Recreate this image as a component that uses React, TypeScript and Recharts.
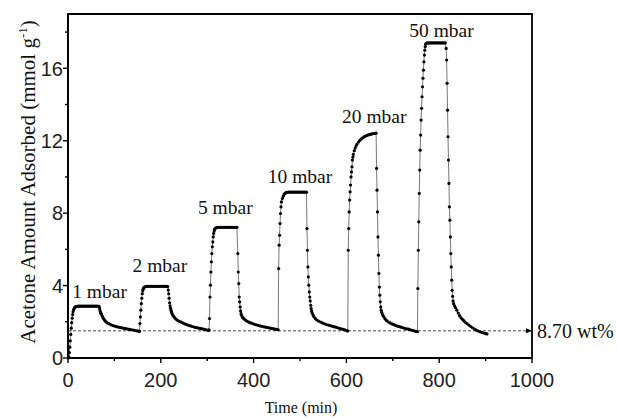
import React from 'react';
import {
  LineChart, Line, XAxis, YAxis, ReferenceLine, ReferenceArea, ReferenceDot
} from 'recharts';

// [time (min), amount (mmol/g)], one list per pressure step
const cycle1mbar: [number, number][] = [
  [1, 0], [2, 0.05], [3, 0.3], [4, 0.6], [5, 0.95], [6, 1.3], [7, 1.65], [8, 1.95], [9, 2.2], [10, 2.4],
  [11, 2.55], [12, 2.65], [13, 2.72], [14, 2.77], [15, 2.8], [16, 2.82], [18, 2.84], [20, 2.85], [22, 2.86],
  [25, 2.86], [28, 2.86], [31, 2.86], [34, 2.86], [37, 2.86], [40, 2.86], [43, 2.86], [46, 2.86], [49, 2.86],
  [52, 2.86], [55, 2.86], [58, 2.86], [61, 2.86], [64, 2.86], [67, 2.85], [68, 2.75], [69, 2.63], [70, 2.54],
  [71, 2.47], [72, 2.42], [74, 2.3], [76, 2.2], [78, 2.12], [80, 2.05], [83, 1.98], [86, 1.92], [89, 1.88],
  [93, 1.83], [97, 1.79], [101, 1.76], [105, 1.73], [109, 1.7], [113, 1.68], [117, 1.66], [121, 1.64],
  [125, 1.62], [129, 1.6], [133, 1.58], [137, 1.56], [141, 1.54], [145, 1.52], [149, 1.5], [153, 1.48],
];

const cycle2mbar: [number, number][] = [
  [154, 1.47], [155, 1.9], [156, 2.27], [157, 2.64], [158, 3.0], [159, 3.3], [160, 3.55], [161, 3.7],
  [162, 3.8], [163, 3.86], [164, 3.9], [166, 3.93], [168, 3.95], [171, 3.96], [174, 3.96], [177, 3.96],
  [180, 3.96], [183, 3.96], [186, 3.96], [189, 3.96], [192, 3.96], [195, 3.96], [198, 3.96], [201, 3.96],
  [204, 3.96], [207, 3.96], [210, 3.96], [213, 3.96], [215, 3.95], [216, 3.75], [217, 3.55], [218, 3.3],
  [219, 3.05], [220, 2.88], [221, 2.75], [222, 2.64], [223, 2.55], [224, 2.47], [226, 2.36], [228, 2.28],
  [230, 2.22], [233, 2.14], [236, 2.08], [240, 2.02], [244, 1.98], [248, 1.93], [252, 1.88], [256, 1.84],
  [260, 1.8], [264, 1.77], [268, 1.74], [272, 1.71], [276, 1.68], [280, 1.66], [284, 1.64], [288, 1.62],
  [292, 1.59], [296, 1.57], [300, 1.54], [303, 1.52],
];

const cycle5mbar: [number, number][] = [
  [304, 1.55], [305, 2.18], [306, 3.37], [307, 4.02], [308, 4.75], [309, 5.31], [310, 5.77], [311, 6.14],
  [312, 6.41], [313, 6.69], [314, 6.88], [315, 7.02], [316, 7.1], [317, 7.15], [318, 7.18], [320, 7.2],
  [322, 7.22], [325, 7.22], [328, 7.22], [331, 7.22], [334, 7.22], [337, 7.22], [340, 7.22], [343, 7.22],
  [346, 7.22], [349, 7.22], [352, 7.22], [355, 7.22], [358, 7.22], [361, 7.22], [364, 7.22], [366, 5.77],
  [367, 4.75], [368, 4.11], [369, 3.37], [370, 3.1], [371, 2.82], [372, 2.6], [373, 2.45], [374, 2.36],
  [376, 2.25], [378, 2.2], [380, 2.15], [383, 2.08], [386, 2.03], [390, 1.98], [394, 1.94], [398, 1.9],
  [402, 1.86], [406, 1.83], [410, 1.8], [414, 1.77], [418, 1.75], [422, 1.72], [426, 1.7], [430, 1.68],
  [434, 1.66], [438, 1.64], [442, 1.62], [446, 1.6], [450, 1.58], [453, 1.56],
];

const cycle10mbar: [number, number][] = [
  [454, 4.94], [455, 6.23], [456, 6.78], [457, 7.43], [458, 7.98], [459, 8.35], [460, 8.62], [462, 8.81],
  [464, 8.94], [466, 9.05], [468, 9.1], [470, 9.13], [472, 9.15], [475, 9.16], [478, 9.16], [481, 9.16],
  [484, 9.16], [487, 9.16], [490, 9.16], [493, 9.16], [496, 9.16], [499, 9.16], [502, 9.16], [505, 9.16],
  [508, 9.16], [511, 9.16], [514, 9.16], [515, 7.15], [516, 5.95], [517, 5.03], [518, 4.48], [519, 4.02],
  [520, 3.65], [521, 3.37], [522, 3.15], [523, 2.91], [524, 2.73], [525, 2.6], [526, 2.5], [528, 2.38],
  [530, 2.28], [533, 2.18], [536, 2.1], [540, 2.04], [545, 1.98], [549, 1.93], [553, 1.89], [557, 1.85],
  [561, 1.82], [565, 1.79], [569, 1.76], [573, 1.73], [577, 1.7], [581, 1.67], [585, 1.64], [589, 1.61],
  [593, 1.58], [597, 1.55], [601, 1.51], [603, 1.49],
];

const cycle20mbar: [number, number][] = [
  [604, 5.95], [605, 7.15], [606, 8.07], [607, 8.72], [608, 9.18], [609, 9.55], [610, 10.0], [611, 10.28],
  [612, 10.56], [613, 10.93], [614, 11.1], [615, 11.25], [617, 11.45], [619, 11.6], [621, 11.72], [623, 11.82],
  [626, 11.93], [629, 12.02], [632, 12.1], [635, 12.16], [638, 12.21], [641, 12.25], [644, 12.29], [647, 12.32],
  [650, 12.34], [653, 12.36], [656, 12.38], [659, 12.4], [662, 12.41], [664, 12.42], [665, 10.47], [666, 9.27],
  [667, 8.07], [668, 6.69], [669, 5.68], [670, 4.67], [671, 3.92], [672, 3.47], [673, 3.1], [674, 2.82],
  [675, 2.64], [676, 2.52], [678, 2.4], [680, 2.3], [683, 2.18], [686, 2.08], [690, 2.0], [694, 1.94],
  [698, 1.88], [702, 1.84], [706, 1.8], [710, 1.76], [714, 1.73], [718, 1.7], [722, 1.67], [726, 1.64],
  [730, 1.61], [734, 1.59], [738, 1.56], [742, 1.53], [746, 1.5], [750, 1.47], [753, 1.45],
];

const cycle50mbar: [number, number][] = [
  [754, 3.84], [755, 5.95], [756, 7.52], [757, 9.09], [758, 10.38], [759, 11.48], [760, 12.31], [761, 13.14],
  [762, 13.79], [763, 14.43], [764, 14.98], [765, 15.45], [766, 15.9], [767, 16.36], [768, 16.73], [769, 17.0],
  [770, 17.2], [771, 17.33], [772, 17.38], [774, 17.4], [777, 17.4], [780, 17.4], [783, 17.4], [786, 17.4],
  [789, 17.4], [792, 17.4], [795, 17.4], [798, 17.4], [801, 17.4], [804, 17.4], [807, 17.4], [810, 17.4],
  [813, 17.4], [815, 17.1], [816, 16.46], [817, 15.17], [818, 13.69], [819, 12.22], [820, 10.93], [821, 9.64],
  [822, 8.35], [823, 7.61], [824, 6.69], [825, 5.77], [826, 5.03], [827, 4.3], [828, 3.74], [829, 3.4],
  [830, 3.15], [831, 3.0], [833, 2.88], [835, 2.78], [838, 2.64], [841, 2.48], [844, 2.34], [847, 2.22],
  [850, 2.14], [853, 2.06], [856, 1.98], [860, 1.9], [864, 1.82], [868, 1.74], [872, 1.67], [876, 1.6],
  [880, 1.54], [884, 1.49], [888, 1.45], [892, 1.41], [896, 1.38], [900, 1.35], [903, 1.33],
];

const pressureLabels = ['1 mbar', '2 mbar', '5 mbar', '10 mbar', '20 mbar', '50 mbar'];
const labelTimes = [68, 198, 339, 500, 660, 805];
const labelAmounts = [3.32, 4.75, 7.98, 9.67, 12.97, 17.73];

const xTicks = [0, 100, 200, 300, 400, 500, 600, 700, 800, 900, 1000];
const yTicks = [0, 2, 4, 6, 8, 10, 12, 14, 16, 18];
const baseline = 1.5;
const baselineText = '8.70 wt%';

const data = [
  ...cycle1mbar, ...cycle2mbar, ...cycle5mbar, ...cycle10mbar, ...cycle20mbar, ...cycle50mbar,
].map(([t, v]) => ({ t, v }));

const SERIF = '"Liberation Serif", "Times New Roman", serif';
const SANS = '"Liberation Sans", Arial, sans-serif';

const XTick = (props: any) => {
  const { x, y, payload } = props;
  const major = payload.value % 200 === 0;
  return (
    <g>
      <line x1={x} x2={x} y1={y} y2={y + (major ? 5 : 3)} stroke="#000" strokeWidth={1.4} />
      {major && (
        <text x={x} y={y + 29} textAnchor="middle" fontSize={20} fontFamily={SANS} fill="#222">
          {payload.value}
        </text>
      )}
    </g>
  );
};

const YTick = (props: any) => {
  const { x, y, payload } = props;
  const major = payload.value % 4 === 0;
  return (
    <g>
      <line x1={x} x2={x - (major ? 5 : 3)} y1={y} y2={y} stroke="#000" strokeWidth={1.4} />
      {major && (
        <text x={x - 5} y={y} dy="0.36em" textAnchor="end" fontSize={20} fontFamily={SANS} fill="#222">
          {payload.value}
        </text>
      )}
    </g>
  );
};

export default function App() {
  return (
    <div style={{ position: 'absolute', left: 0, top: 0, background: '#fff' }}>
      <LineChart width={617} height={420} data={data} margin={{ top: 14, right: 85, bottom: 2, left: 8 }}>
        <XAxis
          dataKey="t"
          type="number"
          domain={[0, 1000]}
          ticks={xTicks}
          interval={0}
          tick={<XTick />}
          tickLine={false}
          tickSize={0}
          tickMargin={0}
          height={60}
          axisLine={{ stroke: '#000', strokeWidth: 1.8 }}
          label={{
            content: ({ viewBox }: any) => (
              <text x={viewBox.x + viewBox.width / 2 + 1} y={viewBox.y + 55} textAnchor="middle"
                fontSize={16} fontFamily={SERIF} fill="#111">
                Time (min)
              </text>
            ),
          }}
        />
        <YAxis
          type="number"
          domain={[0, 19]}
          ticks={yTicks}
          interval={0}
          tick={<YTick />}
          tickLine={false}
          tickSize={0}
          tickMargin={0}
          width={60}
          axisLine={{ stroke: '#000', strokeWidth: 1.8 }}
          label={{
            content: ({ viewBox }: any) => {
              const cx = viewBox.x + 27;
              const cy = viewBox.y + viewBox.height / 2 - 4;
              return (
                <text x={cx} y={cy} textAnchor="middle" transform={`rotate(-90, ${cx}, ${cy})`}
                  fontSize={21} fontFamily={SERIF} fill="#111">
                  Acetone Amount Adsorbed (mmol g
                  <tspan dy={-8} fontSize={13}>-1</tspan>
                  <tspan dy={8}>)</tspan>
                </text>
              );
            },
          }}
        />
        <ReferenceArea x1={0} x2={1000} y1={0} y2={19} fill="none" stroke="#000" strokeWidth={1.8} />
        <ReferenceLine
          y={baseline}
          stroke="#333"
          strokeWidth={0.9}
          strokeDasharray="3 2"
          label={{
            content: ({ viewBox }: any) => {
              const ex = viewBox.x + viewBox.width;
              const y = viewBox.y;
              return (
                <g>
                  <polygon points={`${ex},${y} ${ex - 6},${y - 2.5} ${ex - 6},${y + 2.5}`} fill="#000" />
                  <text x={ex + 5} y={y} dy="0.34em" fontSize={20} fontFamily={SERIF} fill="#111">
                    {baselineText}
                  </text>
                </g>
              );
            },
          }}
        />
        <Line
          type="linear"
          dataKey="v"
          stroke="#555"
          strokeWidth={0.8}
          dot={{ r: 1.6, fill: '#000', stroke: 'none', strokeWidth: 0 }}
          activeDot={false}
          isAnimationActive={false}
        />
        {pressureLabels.map((name, i) => (
          <ReferenceDot
            key={name}
            x={labelTimes[i]}
            y={labelAmounts[i]}
            r={1}
            fill="none"
            stroke="none"
            label={{
              content: ({ viewBox }: any) => (
                <text x={viewBox.x + viewBox.width / 2} y={viewBox.y + viewBox.height / 2}
                  textAnchor="middle" fontSize={19.5} fontFamily={SERIF} fill="#111">
                  {name}
                </text>
              ),
            }}
          />
        ))}
      </LineChart>
    </div>
  );
}
